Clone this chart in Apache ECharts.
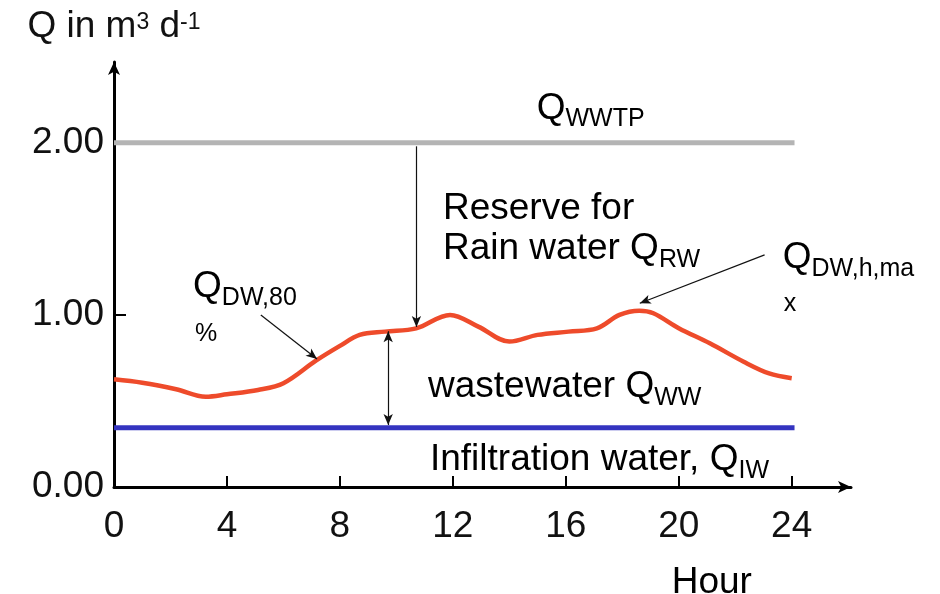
<!DOCTYPE html>
<html><head><meta charset="utf-8">
<script src="https://cdn.jsdelivr.net/npm/echarts@6/dist/echarts.min.js"></script>
<style>html,body{margin:0;padding:0;background:#fff}#c{width:940px;height:594px}</style>
</head><body><div id="c"></div>
<script>
// ---- data ----
const hours = [0, 1, 2.2, 3.25, 4, 5.1, 6, 7.15, 8, 8.7, 9.6, 10.7, 11.9, 12.9, 14, 15, 16.1, 17.1, 17.9, 18.6, 19.1, 20, 21.1, 22.3, 23.2, 24];
const flowDW = [0.626, 0.606, 0.568, 0.525, 0.539, 0.564, 0.603, 0.734, 0.82, 0.884, 0.903, 0.922, 1.0, 0.932, 0.845, 0.884, 0.903, 0.922, 1.0, 1.025, 1.01, 0.923, 0.835, 0.728, 0.66, 0.632];
const lineSpan = [0, 24.1];
const capacityWWTP = 2.0;
const infiltration = 0.345;
const xTickValues = [0, 4, 8, 12, 16, 20, 24];
const yTickValues = [0, 1, 2];
const xMax = 26.1, yMax = 2.47;

// arrows: [start, end, double-headed]
const arrows = [
  [[10.71, 1.98], [10.71, 0.93], false],
  [[9.71, 0.905], [9.71, 0.36], true],
  [[5.2, 1.0], [7.19, 0.744], false],
  [[23.04, 1.349], [18.62, 1.068], false]
];
// annotations: [text, hour, value(baseline)]
const notes = [
  ['{mp|Q}{s|WWTP}', 14.97, 2.14],
  ['{m|Reserve for}', 11.65, 1.587],
  ['{mp|Rain water Q}{s|RW}', 11.65, 1.326],
  ['{mp|Q}{s|DW,80}', 2.8, 1.105],
  ['{n|%}', 2.87, 0.866],
  ['{mp|Q}{s|DW,h,ma}', 23.68, 1.273],
  ['{n|x}', 23.72, 1.041],
  ['{mp|wastewater Q}{s|WW}', 11.12, 0.523],
  ['{mp|Infiltration water, Q}{s|IW}', 11.19, 0.099],
  ['{m|Hour}', 19.75, -0.587]
];

const FF = '"Liberation Sans", Arial, sans-serif';
const TXT = '#111';
const F = 37;
const rich = {
  m:  {fontFamily: FF, fontSize: F, lineHeight: F, verticalAlign: 'bottom', color: TXT},
  mp: {fontFamily: FF, fontSize: F, lineHeight: F, verticalAlign: 'bottom', color: TXT, padding: [0, 0, 5, 0]},
  s:  {fontFamily: FF, fontSize: 25, lineHeight: 25, verticalAlign: 'bottom', color: TXT},
  n:  {fontFamily: FF, fontSize: 25, lineHeight: 25, verticalAlign: 'bottom', color: TXT},
  sup:{fontFamily: FF, fontSize: 23, lineHeight: 23, verticalAlign: 'bottom', color: TXT, padding: [0, 0, 11, 0]}
};

const chart = echarts.init(document.getElementById('c'), null, {renderer: 'canvas'});
chart.setOption({
  animation: false,
  backgroundColor: '#fff',
  grid: {left: 114, right: 89, top: 62, bottom: 107, containLabel: false, outerBoundsMode: 'none'},
  xAxis: {
    type: 'value', min: 0, max: xMax,
    axisLine: {show: true, onZero: false, symbol: ['none', 'arrow'], symbolSize: [9, 13], lineStyle: {color: '#000', width: 3}},
    axisTick: {show: true, inside: true, length: 11, lineStyle: {color: '#000', width: 2}, customValues: xTickValues.slice(1)},
    axisLabel: {show: true, customValues: xTickValues, margin: 21, fontSize: F, fontFamily: FF, color: TXT},
    splitLine: {show: false}
  },
  yAxis: {
    type: 'value', min: 0, max: yMax,
    name: '{m|Q in m}{sup|3}{m| d}{sup|-1}',
    nameLocation: 'end', nameGap: 17,
    nameTextStyle: {rich: rich, align: 'center', verticalAlign: 'bottom'},
    axisLine: {show: true, onZero: false, symbol: ['none', 'arrow'], symbolSize: [9, 13], lineStyle: {color: '#000', width: 3}},
    axisTick: {show: true, inside: true, length: 12, lineStyle: {color: '#000', width: 2}, customValues: yTickValues},
    axisLabel: {show: true, customValues: yTickValues, margin: 10, fontSize: F, fontFamily: FF, color: TXT,
      formatter: v => v.toFixed(2)},
    splitLine: {show: false}
  },
  series: [
    {type: 'line', data: lineSpan.map(h => [h, capacityWWTP]), symbol: 'none',
      lineStyle: {color: '#b4b4b4', width: 5}, z: 2},
    {type: 'line', data: lineSpan.map(h => [h, infiltration]), symbol: 'none',
      lineStyle: {color: '#3434c0', width: 5}, z: 2},
    {type: 'line', data: hours.map((h, i) => [h, flowDW[i]]), symbol: 'none', smooth: 0.35,
      lineStyle: {color: '#ee4b2b', width: 4.5}, z: 3},
    {type: 'line', data: [], symbol: 'none', z: 4,
      markLine: {
        silent: true, animation: false, precision: 4,
        symbolSize: [7, 11],
        lineStyle: {color: '#111', width: 1.2, type: 'solid'},
        label: {show: false},
        emphasis: {disabled: true},
        data: arrows.map(a => [
          {coord: a[0], symbol: a[2] ? 'arrow' : 'none'},
          {coord: a[1], symbol: 'arrow'}
        ])
      }}
  ]
});

const graphics = notes.map(n => {
  const p = chart.convertToPixel({gridIndex: 0}, [n[1], n[2]]);
  const isSmall = n[0].indexOf('{n|') === 0;
  return {
    type: 'text', silent: true, z: 10,
    style: {
      text: n[0], rich: rich, x: p[0],
      y: p[1] - (isSmall ? 16 : 23.7),
      align: 'left', verticalAlign: 'top'
    }
  };
});
chart.setOption({graphic: graphics});
</script>
</body></html>
